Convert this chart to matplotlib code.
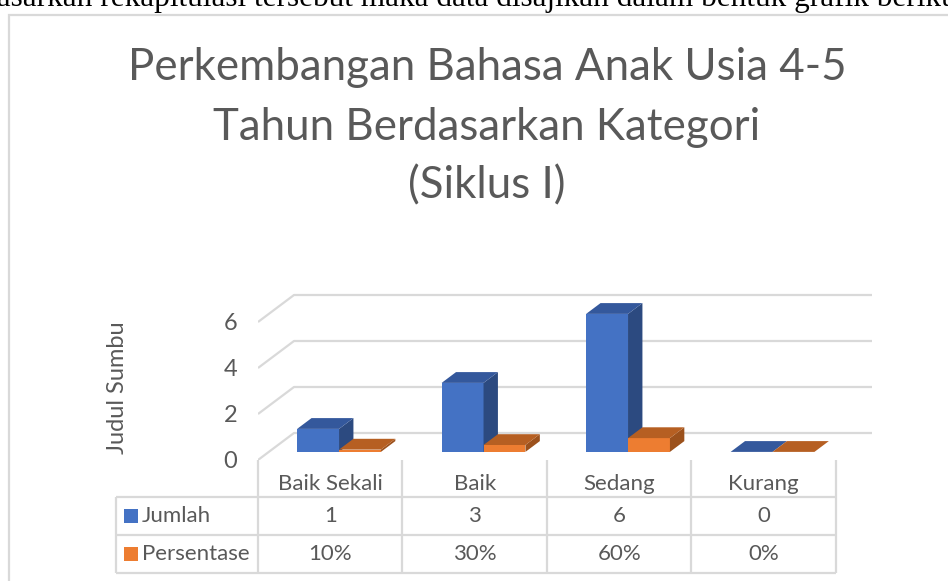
import matplotlib.pyplot as plt
from matplotlib.patches import Polygon

plt.rcParams["font.family"] = ["Lato", "DejaVu Sans"]

categories = ["Baik Sekali", "Baik", "Sedang", "Kurang"]
jumlah = [1, 3, 6, 0]
persentase = [0.10, 0.30, 0.60, 0.0]
series_names = ["Jumlah", "Persentase"]
yticks = [0, 2, 4, 6]
title_lines = ["Perkembangan Bahasa Anak Usia 4-5", "Tahun Berdasarkan Kategori", "(Siklus I)"]
axis_title = "Judul Sumbu"
top_text = "Berdasarkan rekapitulasi tersebut maka data disajikan dalam bentuk grafik berikut"

W, H = 948, 581
TEXT = "#595959"
GRID = "#d9d9d9"
FRONT = ["#4472C4", "#ED7D31"]
TOP = ["#34589C", "#B65F22"]
SIDE = ["#2C4A80", "#9C511C"]

# pixel geometry of the plot area
X0, XS = 258, 144.5      # left edge of the floor, px per category
Y0, YS = 460, 23.0       # front zero line, px per unit
DX, DY = 36 / XS, 27 / YS  # depth of the floor in data units
BW = 0.29                # bar width

fig = plt.figure(figsize=(W / 100, H / 100), dpi=100)

# overlay in pixel coordinates for frame, table and text
ov = fig.add_axes([0, 0, 1, 1])
ov.set_xlim(0, W)
ov.set_ylim(H, 0)
ov.axis("off")

ax = fig.add_axes([X0 / W, 1 - Y0 / H, (885 - X0) / W, 185 / H])
ax.set_xlim(-0.5, -0.5 + (885 - X0) / XS)
ax.set_ylim(0, 185 / YS)
for s in ax.spines.values():
    s.set_visible(False)
ax.set_xticks([])
ax.set_yticks(yticks)
ax.set_yticklabels([str(v) for v in yticks], color=TEXT, fontsize=17)
ax.tick_params(axis="y", length=0, pad=15)
ax.patch.set_alpha(0)

n = len(categories)
for v in yticks:
    ax.plot([-0.5, -0.5 + DX, n - 0.5 + DX], [v, v + DY, v + DY],
            color=GRID, lw=1.6, solid_capstyle="butt", zorder=1)

# 3d-looking columns
f0 = 0.3
ox, oy = f0 * DX - 0.014, f0 * DY
bx, by = 0.4 * DX, 0.4 * DY
for i in range(n):
    for k, vals in enumerate([jumlah, persentase]):
        h = vals[i]
        x0 = i + ox - BW + k * BW
        x1 = x0 + BW
        y0, y1 = oy, oy + h
        if h > 0:
            ax.add_patch(Polygon([(x0, y0), (x1, y0), (x1, y1), (x0, y1)],
                                 closed=True, fc=FRONT[k], ec="none", zorder=3))
            ax.add_patch(Polygon([(x1, y0), (x1 + bx, y0 + by), (x1 + bx, y1 + by), (x1, y1)],
                                 closed=True, fc=SIDE[k], ec="none", zorder=3))
        ax.add_patch(Polygon([(x0, y1), (x1, y1), (x1 + bx, y1 + by), (x0 + bx, y1 + by)],
                             closed=True, fc=TOP[k], ec="none", zorder=3))

# y-axis title
ov.text(118, 388, axis_title, rotation=90, ha="center", va="center", color=TEXT, fontsize=17)

# title
for j, line in enumerate(title_lines):
    ov.text(487, 68 + j * 59, line, ha="center", va="center", color=TEXT, fontsize=31.6)

# data table
col_edges = [X0 + k * XS for k in range(n + 1)]
row_lines = [497, 535, 573]
left = 116
for x in col_edges:
    ov.plot([x, x], [Y0, row_lines[-1]], color=GRID, lw=1.6, solid_capstyle="butt")
ov.plot([left, left], [row_lines[0], row_lines[-1]], color=GRID, lw=1.6, solid_capstyle="butt")
for y in row_lines:
    ov.plot([left, col_edges[-1]], [y, y], color=GRID, lw=1.6, solid_capstyle="butt")

for i, c in enumerate(categories):
    cx = (col_edges[i] + col_edges[i + 1]) / 2
    ov.text(cx, 484, c, ha="center", va="center", color=TEXT, fontsize=16)
    ov.text(cx, 516, str(jumlah[i]), ha="center", va="center", color=TEXT, fontsize=16)
    ov.text(cx, 554, f"{round(persentase[i] * 100)}%", ha="center", va="center",
            color=TEXT, fontsize=16)

for k, (name, ry) in enumerate(zip(series_names, [516, 554])):
    ov.add_patch(plt.Rectangle((124, ry - 7), 14, 14, fc=FRONT[k], ec="none"))
    ov.text(142, ry, name, ha="left", va="center", color=TEXT, fontsize=16)

# chart frame
ov.plot([9.5, 9.5, W], [H, 14.5, 14.5], color=GRID, lw=1.6, solid_joinstyle="miter")

# text of the document above the chart, cut at the top
ov.text(965, 6, top_text, ha="right", va="baseline", color="black", fontsize=22.5,
        family="Liberation Serif")

fig.savefig("out.png", dpi=100)
